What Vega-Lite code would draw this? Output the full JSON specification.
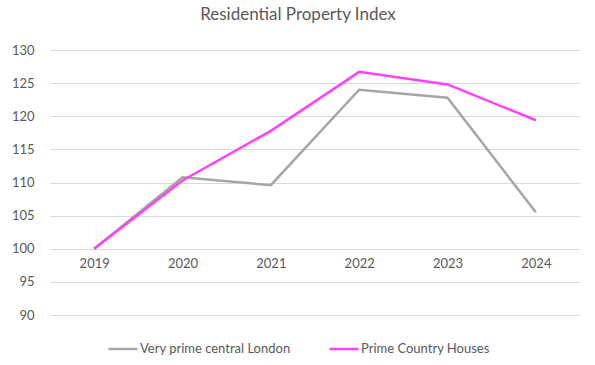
{
  "$schema": "https://vega.github.io/schema/vega-lite/v6.json",
  "width": 530,
  "height": 265,
  "autosize": {"type": "none"},
  "padding": {"left": 50, "top": 50, "right": 15, "bottom": 50},
  "background": "white",
  "title": {
    "text": "Residential Property Index",
    "font": "Lato",
    "fontSize": 17,
    "fontWeight": "normal",
    "color": "#595959",
    "anchor": "middle",
    "frame": "group",
    "dx": -17,
    "offset": 20
  },
  "data": {
    "values": [
      {"year": "2019", "series": "Very prime central London", "value": 100},
      {"year": "2020", "series": "Very prime central London", "value": 110.8},
      {"year": "2021", "series": "Very prime central London", "value": 109.6},
      {"year": "2022", "series": "Very prime central London", "value": 124.0},
      {"year": "2023", "series": "Very prime central London", "value": 122.8},
      {"year": "2024", "series": "Very prime central London", "value": 105.5},
      {"year": "2019", "series": "Prime Country Houses", "value": 100},
      {"year": "2020", "series": "Prime Country Houses", "value": 110.3},
      {"year": "2021", "series": "Prime Country Houses", "value": 117.8},
      {"year": "2022", "series": "Prime Country Houses", "value": 126.7},
      {"year": "2023", "series": "Prime Country Houses", "value": 124.8},
      {"year": "2024", "series": "Prime Country Houses", "value": 119.4}
    ]
  },
  "mark": {"type": "line", "strokeWidth": 2.5, "strokeJoin": "miter"},
  "encoding": {
    "x": {
      "field": "year",
      "type": "ordinal",
      "scale": {"type": "point", "padding": 0.5},
      "axis": {
        "title": null,
        "offset": -66.2,
        "domain": false,
        "ticks": false,
        "grid": false,
        "labelAngle": 0,
        "labelPadding": 9,
        "labelFont": "Lato",
        "labelFontSize": 13,
        "labelColor": "#595959"
      }
    },
    "y": {
      "field": "value",
      "type": "quantitative",
      "scale": {"domain": [90, 130], "nice": false, "zero": false},
      "axis": {
        "title": null,
        "values": [90, 95, 100, 105, 110, 115, 120, 125, 130],
        "domain": false,
        "ticks": false,
        "labelPadding": 16,
        "labelFont": "Lato",
        "labelFontSize": 13,
        "labelColor": "#595959",
        "gridColor": "#D9D9D9",
        "gridWidth": 1
      }
    },
    "color": {
      "field": "series",
      "type": "nominal",
      "scale": {
        "domain": ["Very prime central London", "Prime Country Houses"],
        "range": ["#A5A5A5", "#FF40FF"]
      },
      "legend": {
        "title": null,
        "orient": "none",
        "direction": "horizontal",
        "legendX": 57,
        "legendY": 283,
        "symbolType": "stroke",
        "symbolStrokeWidth": 2.5,
        "symbolSize": 841,
        "labelFont": "Lato",
        "labelFontSize": 13,
        "labelColor": "#595959",
        "labelOffset": 1,
        "columnPadding": 33
      }
    }
  },
  "config": {
    "view": {"stroke": null}
  }
}
